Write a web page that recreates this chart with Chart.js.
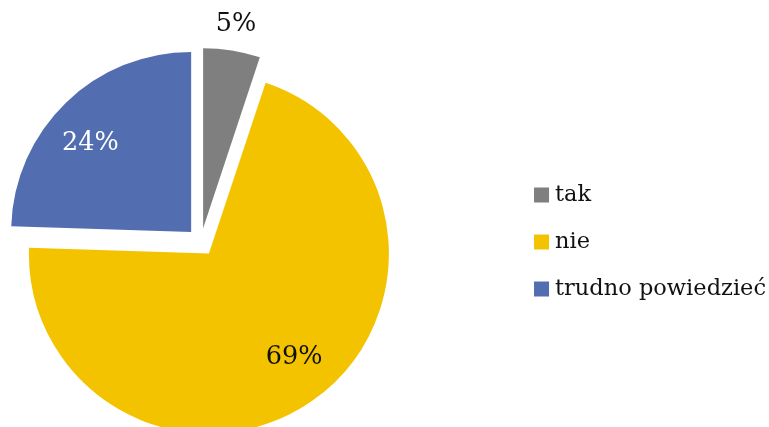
<!DOCTYPE html>
<html>
<head>
<meta charset="utf-8">
<title>tak / nie / trudno powiedzieć</title>
<script src="https://cdn.jsdelivr.net/npm/chart.js@4.4.1/dist/chart.umd.min.js"></script>
<style>
  html, body { margin: 0; padding: 0; background: #fff; overflow: hidden; }
  /* canvas is a bit wider than the window and pulled left, so the pie
     sits near the left edge like in the original */
  #wrap { position: relative; width: 889px; height: 427px; margin-left: -113px; }
</style>
</head>
<body>
<div id="wrap"><canvas id="pieChart"></canvas></div>
<script>
// Chart data
const labels = ['tak', 'nie', 'trudno powiedzieć'];
const values = [5, 69, 24];
const valueLabels = ['5%', '69%', '24%'];

const colors = ['#7F7F7F', '#F4C300', '#526EB0'];
const labelColors = ['#111111', '#111111', '#FFFFFF'];
const labelPlacement = ['outside', 'inside', 'inside'];

const FONT = "'DejaVu Serif', 'Liberation Serif', serif";
const EXPLODE = 14; // px each slice is pulled out of the centre

// Pie controller that pulls every slice out along its bisector,
// without shrinking the slice the way the built-in `offset` does
class ExplodedPieController extends Chart.PieController {
  draw() {
    const ctx = this.chart.ctx;
    const area = this.chart.chartArea;
    this._cachedMeta.data.forEach(arc => {
      const mid = (arc.startAngle + arc.endAngle) / 2;
      ctx.save();
      ctx.translate(Math.cos(mid) * EXPLODE, Math.sin(mid) * EXPLODE);
      arc.draw(ctx, area);
      ctx.restore();
    });
  }
}
ExplodedPieController.id = 'explodedPie';
Chart.register(ExplodedPieController);

// Percent labels on / next to the slices
const sliceLabels = {
  id: 'sliceLabels',
  afterDatasetsDraw(chart) {
    const ctx = chart.ctx;
    const meta = chart.getDatasetMeta(0);
    ctx.save();
    ctx.font = "25.5px " + FONT;
    ctx.textAlign = 'center';
    ctx.textBaseline = 'middle';
    meta.data.forEach((arc, i) => {
      const mid = (arc.startAngle + arc.endAngle) / 2;
      const outside = labelPlacement[i] === 'outside';
      const r = outside ? arc.outerRadius + 26 : arc.outerRadius * 0.745;
      const a = outside ? mid : mid - 0.08; // inside labels sit a touch counter-clockwise
      const x = arc.x + Math.cos(mid) * EXPLODE + Math.cos(a) * r;
      const y = arc.y + Math.sin(mid) * EXPLODE + Math.sin(a) * r;
      ctx.fillStyle = labelColors[i];
      ctx.fillText(valueLabels[i], x, y);
    });
    ctx.restore();
  }
};

const ctx = document.getElementById('pieChart').getContext('2d');
new Chart(ctx, {
  type: 'explodedPie',
  data: {
    labels: labels,
    datasets: [{
      data: values,
      backgroundColor: colors,
      borderWidth: 0,
      radius: 180,
      clip: false
    }]
  },
  options: {
    responsive: true,
    maintainAspectRatio: false,
    animation: false,
    layout: {
      padding: { left: 0, right: 0, top: 57, bottom: 0 }
    },
    plugins: {
      tooltip: { enabled: false },
      legend: {
        position: 'right',
        align: 'center',
        labels: {
          usePointStyle: true,
          pointStyle: 'rect',
          boxWidth: 4.5,
          boxHeight: 15,
          padding: 24.5,
          color: '#111111',
          font: { family: FONT, size: 22.5 }
        }
      }
    }
  },
  plugins: [sliceLabels]
});
</script>
</body>
</html>
